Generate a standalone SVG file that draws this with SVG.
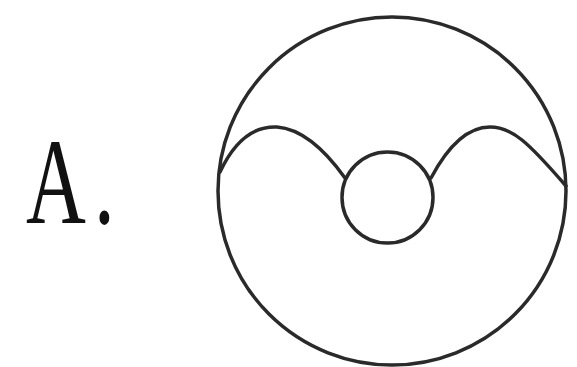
<svg xmlns="http://www.w3.org/2000/svg" width="577" height="367" viewBox="0 0 577 367">
<style>
.ln{fill:none;stroke:#2a2a2a;stroke-width:3.5;stroke-linecap:round;stroke-linejoin:round}
.lbl{font-family:"Liberation Serif","Times New Roman",serif;font-size:122px;fill:#111}
</style>
<rect width="577" height="367" fill="#fff"/>
<g id="label"><text class="lbl" transform="translate(26,223) scale(0.68,1)">A<tspan dx="12">.</tspan></text></g>
<g id="outer"><circle class="ln" cx="392" cy="191" r="174"/></g>
<g id="inner"><circle class="ln" cx="387.5" cy="197.5" r="45.5"/></g>
<g id="connectors">
<path class="ln" d="M220,172 C235,140 255,126 277,127 C302,129 325,150 345,178"/>
<path class="ln" d="M431,178 C448,146 468,127 490,127 C512,127 528,142 566,186"/>
</g>
</svg>
